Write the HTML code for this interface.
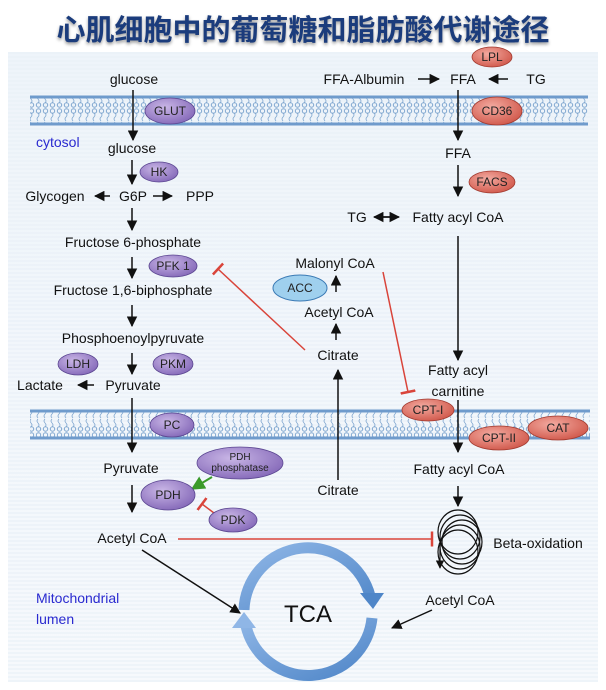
<!DOCTYPE html>
<html><head><meta charset="utf-8"><style>
html,body{margin:0;padding:0;background:#fff;}
svg{display:block;font-family:"Liberation Sans",Arial,sans-serif;}
</style></head><body>
<svg width="606" height="690" viewBox="0 0 606 690" xmlns="http://www.w3.org/2000/svg">
<defs>
<linearGradient id="bg" x1="0" y1="0" x2="0" y2="1"><stop offset="0" stop-color="#eef4fa"/><stop offset="1" stop-color="#f6f9fc"/></linearGradient>
<pattern id="stripe" width="6" height="4" patternUnits="userSpaceOnUse"><rect width="6" height="2" fill="#e9f0f7"/></pattern>
<pattern id="lipid" width="7" height="27" patternUnits="userSpaceOnUse">
<circle cx="3.5" cy="3" r="2.2" fill="none" stroke="#7fa6cf" stroke-width="1"/>
<path d="M3 5 q2 2 0 4 q-2 2 0 4" fill="none" stroke="#7fa6cf" stroke-width="0.8"/>
<circle cx="3.5" cy="24" r="2.2" fill="none" stroke="#7fa6cf" stroke-width="1"/>
<path d="M3 22 q2 -2 0 -4 q-2 -2 0 -4" fill="none" stroke="#7fa6cf" stroke-width="0.8"/>
</pattern>
<radialGradient id="pur" cx="0.4" cy="0.35" r="0.7"><stop offset="0" stop-color="#c9b6e6"/><stop offset="1" stop-color="#8468b8"/></radialGradient>
<radialGradient id="red" cx="0.4" cy="0.35" r="0.7"><stop offset="0" stop-color="#f3aaa0"/><stop offset="1" stop-color="#d0574a"/></radialGradient>
<linearGradient id="ring" x1="0" y1="0" x2="1" y2="1"><stop offset="0" stop-color="#8fb6e6"/><stop offset="1" stop-color="#4f86c8"/></linearGradient>
<marker id="ah" viewBox="0 0 10 10" refX="9" refY="5" markerWidth="7" markerHeight="7" orient="auto"><path d="M0 0L10 5L0 10z" fill="#111"/></marker>
<marker id="ahg" viewBox="0 0 10 10" refX="9" refY="5" markerWidth="7" markerHeight="7" orient="auto"><path d="M0 0L10 5L0 10z" fill="#3a9a2a"/></marker>
<marker id="bar" viewBox="0 0 4 12" refX="2" refY="6" markerWidth="4" markerHeight="10" orient="auto"><path d="M2 0V12" stroke="#d9443a" stroke-width="2"/></marker>
</defs>
<rect width="606" height="690" fill="#fff"/>
<rect x="8" y="52" width="590" height="630" fill="url(#bg)"/>
<rect x="8" y="52" width="590" height="630" fill="url(#stripe)" opacity="0.6"/>
<text x="303" y="40" text-anchor="middle" font-family="'Liberation Sans','Noto Sans CJK SC',sans-serif" font-size="29" font-weight="bold" fill="#1b3c7c" style="text-shadow:0 2px 3px #999">心肌细胞中的葡萄糖和脂肪酸代谢途径</text>

<rect x="30" y="97" width="558" height="27" fill="url(#lipid)"/>
<line x1="30" y1="97" x2="588" y2="97" stroke="#6f9bcc" stroke-width="3"/>
<line x1="30" y1="124" x2="588" y2="124" stroke="#6f9bcc" stroke-width="3"/>
<rect x="30" y="411" width="560" height="27" fill="url(#lipid)"/>
<line x1="30" y1="411" x2="590" y2="411" stroke="#6f9bcc" stroke-width="3"/>
<line x1="30" y1="438" x2="590" y2="438" stroke="#6f9bcc" stroke-width="3"/>

<g font-size="14" fill="#111" text-anchor="middle">
<text x="134" y="84">glucose</text>
<text x="132" y="153">glucose</text>
<text x="55" y="201">Glycogen</text>
<text x="133" y="201">G6P</text>
<text x="200" y="201">PPP</text>
<text x="133" y="247">Fructose 6-phosphate</text>
<text x="133" y="295">Fructose 1,6-biphosphate</text>
<text x="133" y="343">Phosphoenoylpyruvate</text>
<text x="40" y="390">Lactate</text>
<text x="133" y="390">Pyruvate</text>
<text x="131" y="473">Pyruvate</text>
<text x="132" y="543">Acetyl CoA</text>
<text x="364" y="84">FFA-Albumin</text>
<text x="463" y="84">FFA</text>
<text x="536" y="84">TG</text>
<text x="458" y="158">FFA</text>
<text x="357" y="222">TG</text>
<text x="458" y="222">Fatty acyl CoA</text>
<text x="335" y="268">Malonyl CoA</text>
<text x="339" y="317">Acetyl CoA</text>
<text x="338" y="360">Citrate</text>
<text x="458" y="375">Fatty acyl</text>
<text x="458" y="396">carnitine</text>
<text x="459" y="474">Fatty acyl CoA</text>
<text x="338" y="495">Citrate</text>
<text x="538" y="548">Beta-oxidation</text>
<text x="460" y="605">Acetyl CoA</text>
</g>
<g font-size="14" fill="#2a2ad0">
<text x="36" y="147">cytosol</text>
<text x="36" y="603">Mitochondrial</text>
<text x="36" y="624">lumen</text>
</g>

<g stroke="#111" stroke-width="1.5" fill="none" marker-end="url(#ah)">
<line x1="133" y1="90" x2="133" y2="140"/>
<line x1="132" y1="160" x2="132" y2="184"/>
<line x1="110" y1="196" x2="95" y2="196"/>
<line x1="153" y1="196" x2="172" y2="196"/>
<line x1="132" y1="208" x2="132" y2="230"/>
<line x1="132" y1="257" x2="132" y2="278"/>
<line x1="132" y1="305" x2="132" y2="326"/>
<line x1="132" y1="353" x2="132" y2="374"/>
<line x1="94" y1="385" x2="78" y2="385"/>
<line x1="132" y1="398" x2="132" y2="452"/>
<line x1="132" y1="485" x2="132" y2="512"/>
<line x1="142" y1="550" x2="240" y2="613"/>
<line x1="418" y1="79" x2="439" y2="79"/>
<line x1="508" y1="79" x2="489" y2="79"/>
<line x1="458" y1="90" x2="458" y2="140"/>
<line x1="458" y1="165" x2="458" y2="196"/>
<line x1="382" y1="217" x2="399" y2="217"/>
<line x1="458" y1="236" x2="458" y2="360"/>
<line x1="336" y1="292" x2="336" y2="276"/>
<line x1="336" y1="340" x2="336" y2="324"/>
<line x1="338" y1="480" x2="338" y2="370"/>
<line x1="458" y1="400" x2="458" y2="452"/>
<line x1="458" y1="486" x2="458" y2="506"/>
<line x1="432" y1="610" x2="392" y2="628"/>
</g>
<line x1="392" y1="217" x2="374" y2="217" stroke="#111" stroke-width="1.5" marker-end="url(#ah)"/>
<g stroke="#d9443a" stroke-width="1.5" fill="none" marker-end="url(#bar)">
<line x1="305" y1="350" x2="218" y2="269"/>
<line x1="383" y1="272" x2="408" y2="392"/>
<line x1="178" y1="539" x2="432" y2="539"/>
<line x1="218" y1="516" x2="202" y2="504"/>
</g>
<line x1="212" y1="477" x2="192" y2="489" stroke="#3a9a2a" stroke-width="2" marker-end="url(#ahg)"/>

<g fill="none" stroke="#111" stroke-width="1.2">
<ellipse cx="458" cy="532" rx="20" ry="22"/>
<ellipse cx="460" cy="537" rx="20" ry="22"/>
<ellipse cx="462" cy="542" rx="20" ry="22"/>
<ellipse cx="460" cy="547" rx="20" ry="22"/>
<ellipse cx="458" cy="552" rx="20" ry="22"/>
<line x1="440" y1="545" x2="440" y2="568" marker-end="url(#ah)"/>
</g>

<g fill="none" stroke="url(#ring)" stroke-width="11">
<path d="M244 610 A64 64 0 0 1 370 596"/>
<path d="M372 618 A64 64 0 0 1 246 626"/>
</g>
<path d="M360 593 L384 593 L373 609 Z" fill="#4f86c8"/>
<path d="M232 628 L256 628 L244 612 Z" fill="#8fb6e6"/>
<text x="308" y="622" text-anchor="middle" font-size="24" fill="#111">TCA</text>

<g font-size="12" text-anchor="middle" fill="#222" stroke="#5a4590" stroke-width="0.8">
<ellipse cx="170" cy="111" rx="25" ry="13" fill="url(#pur)"/>
<ellipse cx="159" cy="172" rx="19" ry="10" fill="url(#pur)"/>
<ellipse cx="173" cy="266" rx="24" ry="11" fill="url(#pur)"/>
<ellipse cx="78" cy="364" rx="20" ry="11" fill="url(#pur)"/>
<ellipse cx="173" cy="364" rx="20" ry="11" fill="url(#pur)"/>
<ellipse cx="172" cy="425" rx="22" ry="12" fill="url(#pur)"/>
<ellipse cx="240" cy="463" rx="43" ry="16" fill="url(#pur)"/>
<ellipse cx="168" cy="495" rx="27" ry="15" fill="url(#pur)"/>
<ellipse cx="233" cy="520" rx="24" ry="12" fill="url(#pur)"/>
</g>
<ellipse cx="300" cy="288" rx="27" ry="13" fill="#9fd0ee" stroke="#3a7ab5" stroke-width="1"/>
<g stroke="#a0392e" stroke-width="0.8">
<ellipse cx="492" cy="57" rx="20" ry="10" fill="url(#red)"/>
<ellipse cx="497" cy="111" rx="25" ry="14" fill="url(#red)"/>
<ellipse cx="492" cy="182" rx="23" ry="11" fill="url(#red)"/>
<ellipse cx="428" cy="410" rx="26" ry="11" fill="url(#red)"/>
<ellipse cx="499" cy="438" rx="30" ry="12" fill="url(#red)"/>
<ellipse cx="558" cy="428" rx="30" ry="12" fill="url(#red)"/>
</g>
<g font-size="12" text-anchor="middle" fill="#222">
<text x="170" y="115">GLUT</text>
<text x="159" y="176">HK</text>
<text x="173" y="270">PFK 1</text>
<text x="78" y="368">LDH</text>
<text x="173" y="368">PKM</text>
<text x="172" y="429">PC</text>
<text x="240" y="460" font-size="10">PDH</text>
<text x="240" y="471" font-size="10">phosphatase</text>
<text x="168" y="499">PDH</text>
<text x="233" y="524">PDK</text>
<text x="300" y="292">ACC</text>
<text x="492" y="61">LPL</text>
<text x="497" y="115">CD36</text>
<text x="492" y="186">FACS</text>
<text x="428" y="414">CPT-I</text>
<text x="499" y="442">CPT-II</text>
<text x="558" y="432">CAT</text>
</g>
</svg>
</body></html>
